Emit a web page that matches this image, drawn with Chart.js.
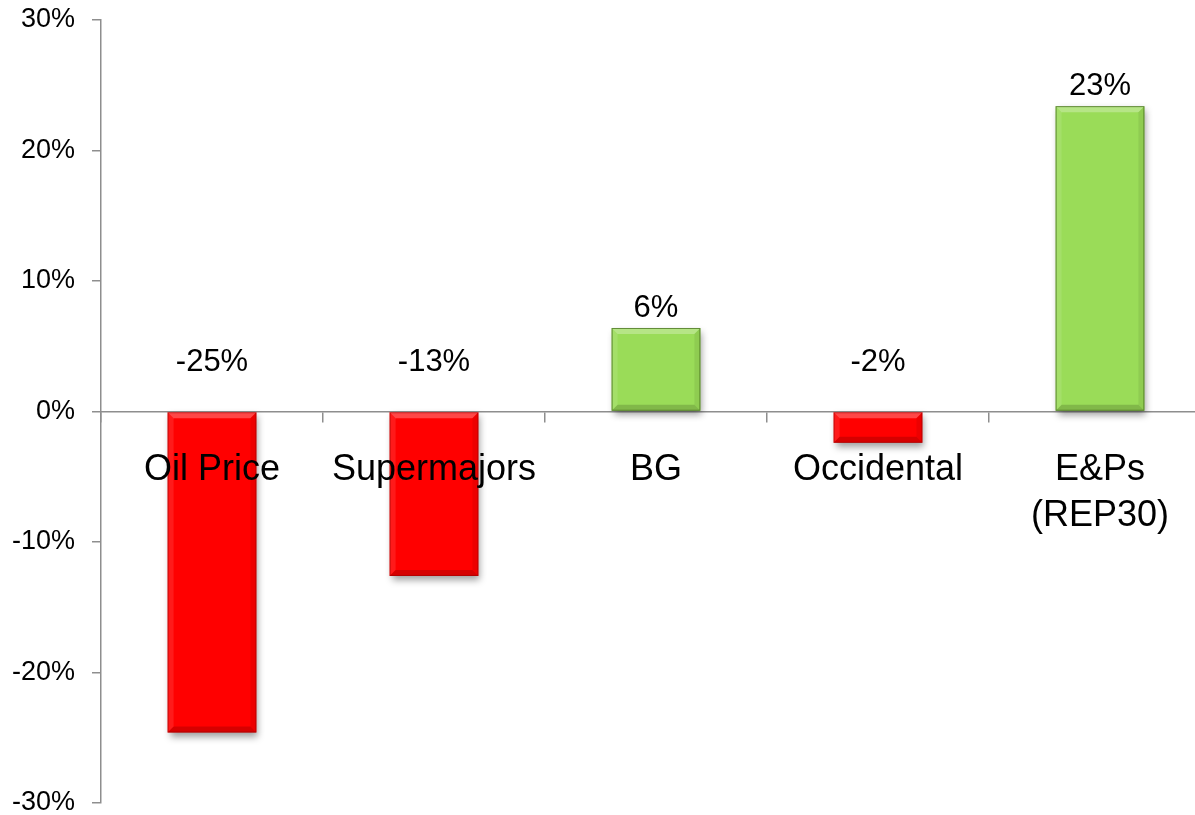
<!DOCTYPE html>
<html>
<head>
<meta charset="utf-8">
<script src="https://cdn.jsdelivr.net/npm/chart.js@4.4.1/dist/chart.umd.min.js"></script>
<style>
  html, body { margin: 0; padding: 0; overflow: hidden; background: #fff; width: 1195px; height: 815px; }
  #wrap { width: 1212px; height: 815px; }
</style>
</head>
<body>
<div id="wrap"><canvas id="c" width="1212" height="815"></canvas></div>
<script>
// ---- data ----
const categories = ['Oil Price', 'Supermajors', 'BG', 'Occidental', ['E&Ps', '(REP30)']];
const changes = [-24.6, -12.6, 6.4, -2.4, 23.4];   // % change
const yMin = -30, yMax = 30, yStep = 10;

const RED = '#FF0000', GREEN = '#9ADC58';
const AXIS = '#8E8E8E';
const FONT = '"Liberation Sans", Arial, sans-serif';

const barFx = {
  id: 'barFx',
  beforeDatasetDraw(chart) {
    const ctx = chart.ctx;
    ctx.save();
    ctx.shadowColor = 'rgba(0,0,0,0.38)';
    ctx.shadowBlur = 7;
    ctx.shadowOffsetX = 2;
    ctx.shadowOffsetY = 4;
  },
  afterDatasetDraw(chart) {
    chart.ctx.restore();
  },
  afterDatasetsDraw(chart) {
    const ctx = chart.ctx;
    const meta = chart.getDatasetMeta(0);
    const yScale = chart.scales.y;
    const zero = yScale.getPixelForValue(0);
    meta.data.forEach((el, i) => {
      const v = changes[i];
      const l = el.x - el.width / 2, r = el.x + el.width / 2;
      const t = Math.min(el.y, el.base), b = Math.max(el.y, el.base);
      const bv = 6;
      ctx.save();
      ctx.fillStyle = 'rgba(255,255,255,0.28)';
      ctx.beginPath(); ctx.moveTo(l, t); ctx.lineTo(r, t); ctx.lineTo(r - bv, t + bv); ctx.lineTo(l + bv, t + bv); ctx.closePath(); ctx.fill();
      ctx.fillStyle = 'rgba(255,255,255,0.10)';
      ctx.beginPath(); ctx.moveTo(l, t); ctx.lineTo(l + bv, t + bv); ctx.lineTo(l + bv, b - bv); ctx.lineTo(l, b); ctx.closePath(); ctx.fill();
      ctx.fillStyle = 'rgba(0,0,0,0.07)';
      ctx.beginPath(); ctx.moveTo(r, t); ctx.lineTo(r - bv, t + bv); ctx.lineTo(r - bv, b - bv); ctx.lineTo(r, b); ctx.closePath(); ctx.fill();
      ctx.fillStyle = 'rgba(0,0,0,0.16)';
      ctx.beginPath(); ctx.moveTo(l, b); ctx.lineTo(r, b); ctx.lineTo(r - bv, b - bv); ctx.lineTo(l + bv, b - bv); ctx.closePath(); ctx.fill();
      ctx.strokeStyle = v < 0 ? 'rgba(150,0,0,0.55)' : 'rgba(70,110,30,0.75)';
      ctx.lineWidth = 1;
      ctx.strokeRect(l + 0.5, t + 0.5, r - l - 1, b - t - 1);
      ctx.restore();

      // data label
      ctx.save();
      ctx.fillStyle = '#000';
      ctx.font = '31px ' + FONT;
      ctx.textAlign = 'center';
      ctx.textBaseline = 'middle';
      const ly = v >= 0 ? el.y - 20 : zero - 49;
      ctx.fillText(v.toFixed(0) + '%', el.x, ly);
      ctx.restore();
    });
  }
};

new Chart(document.getElementById('c'), {
  type: 'bar',
  data: {
    labels: categories,
    datasets: [{
      data: changes,
      backgroundColor: ctx => (changes[ctx.dataIndex] < 0 ? RED : GREEN),
      borderWidth: 0,
      barPercentage: 0.4,
      categoryPercentage: 1.0
    }]
  },
  options: {
    responsive: false,
    animation: false,
    layout: { padding: { top: 20, bottom: 12, left: 0, right: 1 } },
    plugins: { legend: { display: false }, tooltip: { enabled: false } },
    scales: {
      x: {
        position: { y: 0 },
        grid: { display: true, drawOnChartArea: false, drawTicks: true, tickLength: 10, color: AXIS, lineWidth: 1.5, offset: true },
        border: { display: true, color: AXIS, width: 1.5 },
        ticks: {
          z: 1,
          color: '#000',
          font: { family: FONT, size: 36, lineHeight: 1.27 },
          padding: 26,
          autoSkip: false,
          maxRotation: 0,
          minRotation: 0
        },
        afterFit: s => { s.height = 0; s.paddingLeft = 0; s.paddingRight = 0; }
      },
      y: {
        min: yMin,
        max: yMax,
        ticks: {
          stepSize: yStep,
          color: '#000',
          font: { family: FONT, size: 27 },
          padding: 17,
          callback: v => v + '%'
        },
        grid: { display: true, drawOnChartArea: false, drawTicks: true, tickLength: 9, color: AXIS, lineWidth: 1.5 },
        border: { display: true, color: AXIS, width: 1.5 },
        afterFit: s => { s.width = 101; s.paddingTop = 0; s.paddingBottom = 0; }
      }
    }
  },
  plugins: [barFx]
});
</script>
</body>
</html>
